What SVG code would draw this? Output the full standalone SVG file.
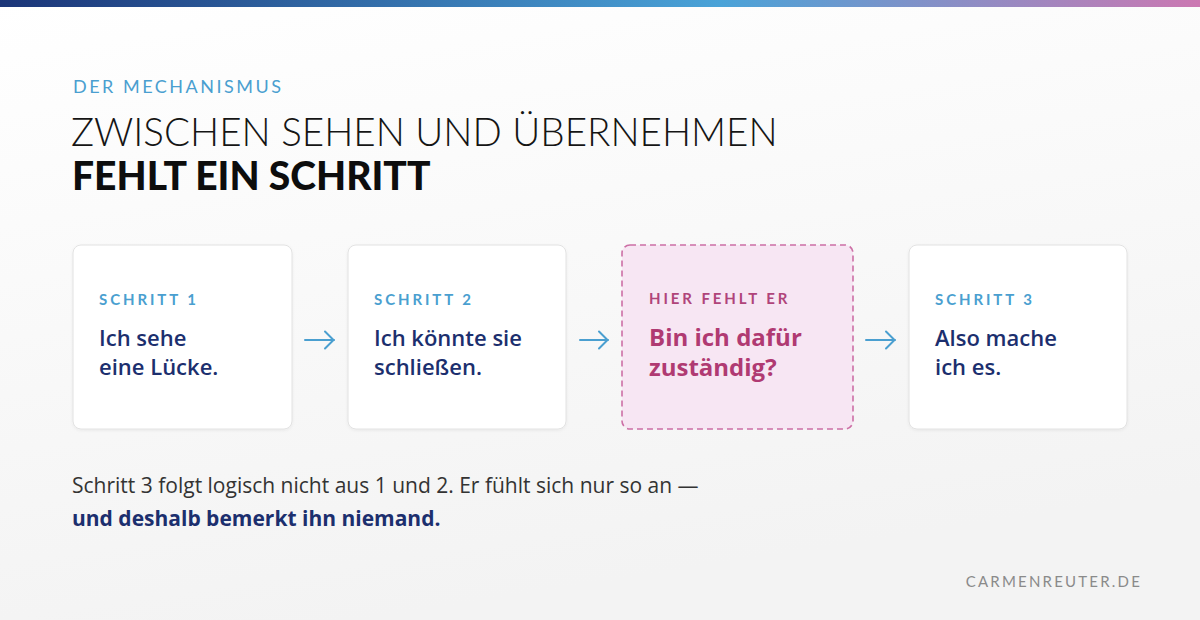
<svg xmlns="http://www.w3.org/2000/svg" width="1200" height="620" viewBox="0 0 1200 620">
<defs>
<linearGradient id="bar" x1="0" y1="0" x2="1" y2="0">
<stop offset="0" stop-color="#1b3578"/>
<stop offset="0.6" stop-color="#4aa3d8"/>
<stop offset="1" stop-color="#cc78b2"/>
</linearGradient>
<linearGradient id="bg" x1="0" y1="0" x2="0.3" y2="1">
<stop offset="0" stop-color="#ffffff"/>
<stop offset="1" stop-color="#f3f3f3"/>
</linearGradient>
<filter id="sh" x="-10%" y="-10%" width="120%" height="130%">
<feDropShadow dx="0" dy="1" stdDeviation="1.5" flood-color="#000" flood-opacity="0.06"/>
</filter>
<marker id="ah" viewBox="0 0 12 20" refX="11" refY="10" markerWidth="12" markerHeight="20" markerUnits="userSpaceOnUse" orient="auto">
<path d="M2,1.5 L10.5,10 L2,18.5" fill="none" stroke="#4a9fd0" stroke-width="2" stroke-linecap="round" stroke-linejoin="round"/>
</marker>
</defs>
<style>
.card{fill:#fff;stroke:#e2e2e2;stroke-width:1}
.miss{fill:#f7e6f3;stroke:#cc6fa5;stroke-width:1.6;stroke-dasharray:6 4}
.lbl{font-family:Lato,"Liberation Sans",sans-serif;font-weight:700;font-size:15px;letter-spacing:2.9px;fill:#4a9fd0}
.lblm{fill:#b0447a}
.txt{font-family:"Open Sans","Liberation Sans",sans-serif;font-weight:600;font-size:22px;fill:#1c2f6e}
.txtm{font-weight:700;font-size:24px;fill:#b03a72}
.conn{stroke:#4a9fd0;stroke-width:2;fill:none;stroke-linecap:round}
</style>
<rect width="1200" height="620" fill="url(#bg)"/>
<rect width="1200" height="7" fill="url(#bar)"/>
<g id="header">
<text x="73" y="93" font-family="Lato,'Liberation Sans',sans-serif" font-size="18" letter-spacing="2.5" fill="#4a9fd0">DER MECHANISMUS</text>
<text x="71" y="146" font-family="Lato,'Liberation Sans',sans-serif" font-weight="300" font-size="38.6" fill="#151515">ZWISCHEN SEHEN UND ÜBERNEHMEN</text>
<text x="72" y="190" font-family="Lato,'Liberation Sans',sans-serif" font-weight="900" font-size="39" fill="#0d0d0d">FEHLT EIN SCHRITT</text>
</g>
<g id="step1">
<rect class="card" x="73" y="245" width="219" height="184" rx="8" filter="url(#sh)"/>
<text class="lbl" x="99" y="305">SCHRITT 1</text>
<text class="txt" x="99" y="346">Ich sehe</text>
<text class="txt" x="99" y="375">eine Lücke.</text>
</g>
<g id="step2">
<rect class="card" x="348" y="245" width="218" height="184" rx="8" filter="url(#sh)"/>
<text class="lbl" x="374" y="305">SCHRITT 2</text>
<text class="txt" x="374" y="346">Ich könnte sie</text>
<text class="txt" x="374" y="375">schließen.</text>
</g>
<g id="missing">
<rect class="miss" x="622" y="245" width="231" height="184" rx="8"/>
<text class="lbl lblm" x="649" y="304">HIER FEHLT ER</text>
<text class="txt txtm" x="649" y="346">Bin ich dafür</text>
<text class="txt txtm" x="649" y="376">zuständig?</text>
</g>
<g id="step3">
<rect class="card" x="909" y="245" width="218" height="184" rx="8" filter="url(#sh)"/>
<text class="lbl" x="935" y="305">SCHRITT 3</text>
<text class="txt" x="935" y="346">Also mache</text>
<text class="txt" x="935" y="375">ich es.</text>
</g>
<g id="connectors">
<line class="conn" x1="305" y1="340" x2="334" y2="340" marker-end="url(#ah)"/>
<line class="conn" x1="580" y1="340" x2="608" y2="340" marker-end="url(#ah)"/>
<line class="conn" x1="866" y1="340" x2="895" y2="340" marker-end="url(#ah)"/>
</g>
<g id="footer">
<text x="72" y="493" font-family="'Open Sans','Liberation Sans',sans-serif" font-size="21" fill="#333">Schritt 3 folgt logisch nicht aus 1 und 2. Er fühlt sich nur so an —</text>
<text x="72" y="526" font-family="'Open Sans','Liberation Sans',sans-serif" font-weight="700" font-size="21" fill="#1c2f6e">und deshalb bemerkt ihn niemand.</text>
<text x="1142" y="587" text-anchor="end" font-family="Lato,'Liberation Sans',sans-serif" font-size="15" letter-spacing="2.2" fill="#8a8a8a">CARMENREUTER.DE</text>
</g>
</svg>
